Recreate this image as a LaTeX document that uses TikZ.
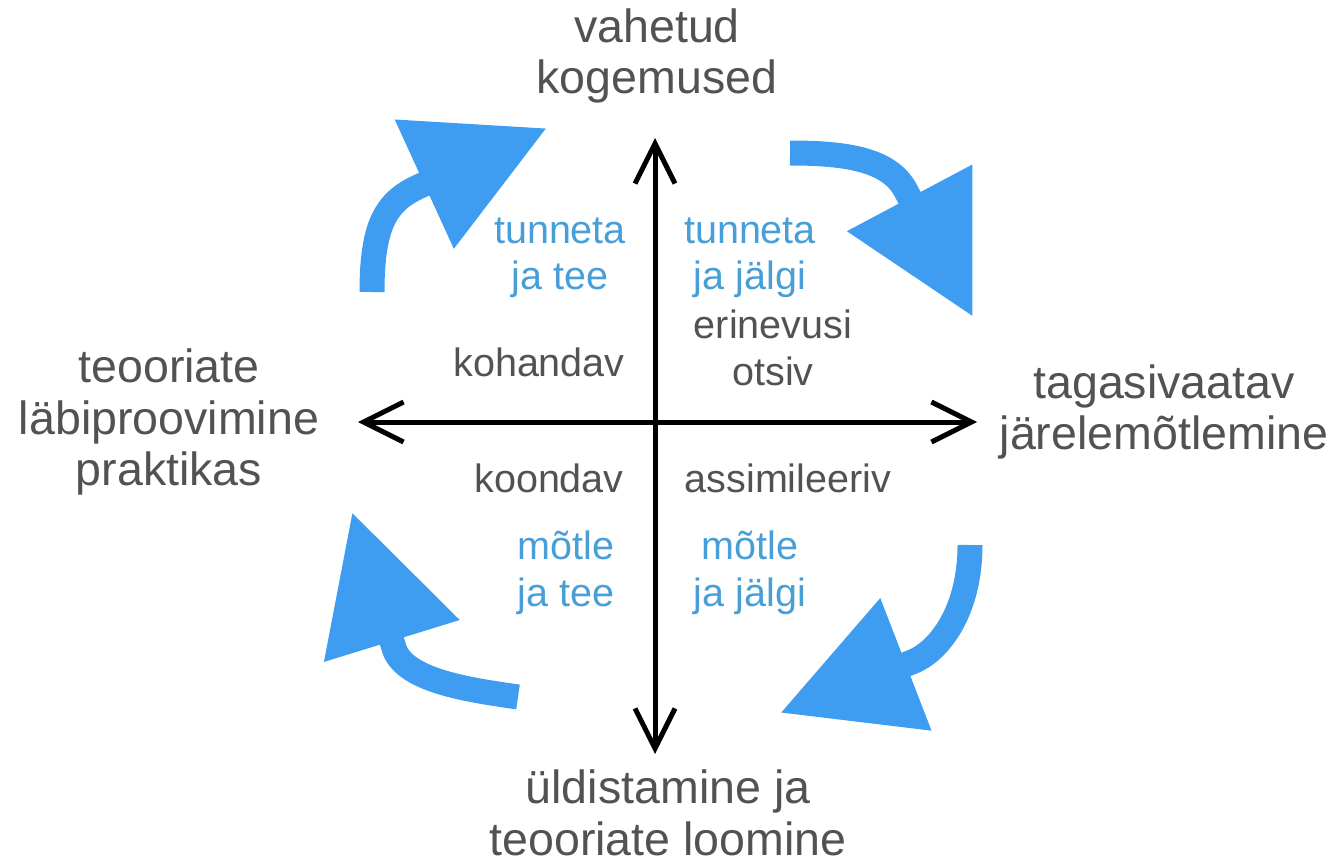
\documentclass[tikz,border=0pt]{standalone}
\usepackage{fontspec}
\setmainfont{Liberation Sans}
\usetikzlibrary{arrows.meta}
\definecolor{cycblue}{RGB}{62,157,240}
\definecolor{txtblue}{RGB}{72,158,214}
\definecolor{txtgray}{RGB}{82,82,82}
\tikzset{
  pole/.style={text=txtgray,align=center,inner sep=0pt,font=\fontsize{26.5}{29.5}\selectfont},
  kind/.style={text=txtgray,align=center,inner sep=0pt,font=\fontsize{22.5}{26.5}\selectfont},
  verb/.style={text=txtblue,align=center,inner sep=0pt,font=\fontsize{22.5}{26.5}\selectfont},
  cyc/.style={line width=0.5cm,draw=cycblue,-{Triangle[length=2.7cm,width=2.7cm]}}
}
\begin{document}
\begin{tikzpicture}[x=0.02cm,y=-0.02cm,>={Straight Barb[length=8mm,width=8mm]}]
\useasboundingbox (0,0) rectangle (1342,865);
\path
(655,138) coordinate (top)
(655,754) coordinate (bot)
(358,422) coordinate (lft)
(977,422) coordinate (rgt)
(657,56)   node[pole] (exp) {vahetud\\kogemused}
(169,422)  node[pole] (test) {teooriate\\läbiproovimine\\praktikas}
(1164,412) node[pole] (refl) {tagasivaatav\\järelemõtlemine}
(668,813)  node[pole] (gen) {üldistamine ja\\teooriate loomine}
(560,258)  node[verb] (tt) {tunneta\\ja tee}
(750,258)  node[verb] (tj) {tunneta\\ja jälgi}
(566,573)  node[verb] (mt) {mõtle\\ja tee}
(750,573)  node[verb] (mj) {mõtle\\ja jälgi}
(539,362)  node[kind] (koh) {kohandav}
(773,348)  node[kind] (eri) {erinevusi\\otsiv}
(549,478)  node[kind] (koo) {koondav}
(788,478)  node[kind] (ass) {assimileeriv};
% axes
\draw[<->,line width=0.1cm] (lft)--(rgt);
\draw[<->,line width=0.1cm] (bot)--(top);
% cycle arrows
\path
(372,292) coordinate (c1s) (547,128) coordinate (c1e)
(790,153) coordinate (c2s) (973,317) coordinate (c2e)
(970,545) coordinate (c3s) (780,713) coordinate (c3e)
(518,697) coordinate (c4s) (352,512) coordinate (c4e);
\draw[cyc] (c1s) .. controls (372,225) and (386,202) .. (418,187) -- (c1e);
\draw[cyc] (c2s) .. controls (848,153) and (890,160) .. (906,191) -- (c2e);
\draw[cyc] (c3s) .. controls (970,610) and (940,651) .. (912,662) -- (c3e);
\draw[cyc] (c4s) .. controls (470,690) and (404,681) .. (394,648) -- (c4e);
\end{tikzpicture}
\end{document}
